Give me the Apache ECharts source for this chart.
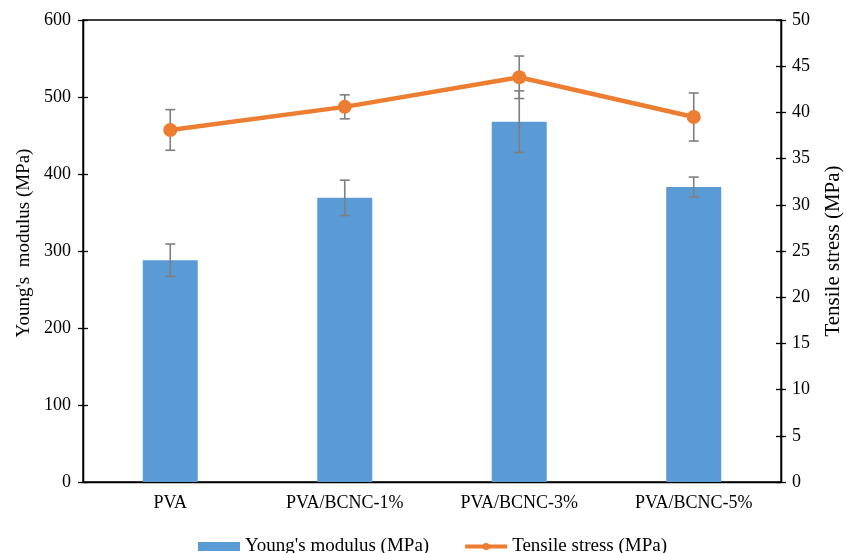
<!DOCTYPE html>
<html>
<head>
<meta charset="utf-8">
<script src="https://cdn.jsdelivr.net/npm/echarts@6/dist/echarts.min.js"></script>
<style>
  html, body { margin: 0; padding: 0; background: #fff; }
  #chart { width: 846px; height: 553px; }
</style>
</head>
<body>
<div id="chart"></div>
<script>
// Sample groups
const categories = ['PVA', 'PVA/BCNC-1%', 'PVA/BCNC-3%', 'PVA/BCNC-5%'];

// Young's modulus (MPa), mean and standard deviation
const modulus = [288, 369, 468, 383];
const modulusErr = [21, 23, 40, 13];

// Tensile stress (MPa), mean and standard deviation
const stress = [38.1, 40.6, 43.8, 39.5];
const stressErr = [2.2, 1.3, 2.3, 2.6];

// Axis ranges
const leftMax = 600, leftStep = 100;
const rightMax = 50, rightStep = 5;

const FONT = '"Liberation Serif", "Times New Roman", serif';
const errColor = '#7f7f7f';

function errorRender(params, api) {
  const x = api.value(0);
  const v = api.value(1);
  const e = api.value(2);
  const hi = api.coord([x, v + e]);
  const lo = api.coord([x, v - e]);
  const cap = 5;
  const style = { stroke: errColor, lineWidth: 1.6 };
  return {
    type: 'group',
    children: [
      { type: 'line', shape: { x1: hi[0], y1: hi[1], x2: lo[0], y2: lo[1] }, style },
      { type: 'line', shape: { x1: hi[0] - cap, y1: hi[1], x2: hi[0] + cap, y2: hi[1] }, style },
      { type: 'line', shape: { x1: lo[0] - cap, y1: lo[1], x2: lo[0] + cap, y2: lo[1] }, style }
    ]
  };
}

const chart = echarts.init(document.getElementById('chart'), null, { renderer: 'canvas' });

const baseY = {
  type: 'value',
  splitLine: { show: false },
  axisLine: { show: true, lineStyle: { color: '#000', width: 1.3 } },
  axisTick: { show: true, length: 5, lineStyle: { color: '#000', width: 1.3 } },
  axisLabel: { color: '#000', fontFamily: FONT, fontSize: 18 },
  nameTextStyle: { color: '#000', fontFamily: FONT }
};

chart.setOption({
  animation: false,
  backgroundColor: '#fff',
  grid: {
    left: 83, right: 65, top: 20, bottom: 71,
    outerBoundsMode: 'none',
    containLabel: false,
    show: true, borderColor: '#000', borderWidth: 1.3, backgroundColor: 'transparent'
  },
  legend: {
    top: 532,
    left: 193,
    itemGap: 34,
    itemWidth: 42,
    itemHeight: 9,
    textStyle: { color: '#000', fontFamily: FONT, fontSize: 19 },
    data: [
      { name: "Young's modulus (MPa)", icon: 'rect' },
      { name: 'Tensile stress (MPa)', lineStyle: { width: 4 } }
    ]
  },
  xAxis: {
    type: 'category',
    data: categories,
    axisLine: { show: true, lineStyle: { color: '#000', width: 1.3 } },
    axisTick: { show: false },
    axisLabel: { color: '#000', fontFamily: FONT, fontSize: 18, margin: 12 },
    splitLine: { show: false }
  },
  yAxis: [
    Object.assign({}, baseY, {
      position: 'left', min: 0, max: leftMax, interval: leftStep,
      name: "Young's  modulus (MPa)", nameLocation: 'middle', nameGap: 49,
      nameTextStyle: { color: '#000', fontFamily: FONT, fontSize: 19, padding: [0, 0, 0, 16] },
      axisLabel: Object.assign({}, baseY.axisLabel, { margin: 12 })
    }),
    Object.assign({}, baseY, {
      position: 'right', min: 0, max: rightMax, interval: rightStep,
      name: 'Tensile stress (MPa)', nameLocation: 'middle', nameGap: 42,
      nameTextStyle: { color: '#000', fontFamily: FONT, fontSize: 21 },
      axisLabel: Object.assign({}, baseY.axisLabel, { margin: 11 })
    }),
    // inward halves of the cross tick marks
    Object.assign({}, baseY, {
      position: 'left', min: 0, max: leftMax, interval: leftStep,
      axisLabel: { show: false },
      axisTick: { show: true, inside: true, length: 5, lineStyle: { color: '#000', width: 1.3 } }
    }),
    Object.assign({}, baseY, {
      position: 'right', min: 0, max: rightMax, interval: rightStep,
      axisLabel: { show: false },
      axisTick: { show: true, inside: true, length: 5, lineStyle: { color: '#000', width: 1.3 } }
    })
  ],
  series: [
    {
      name: "Young's modulus (MPa)",
      type: 'bar',
      yAxisIndex: 0,
      data: modulus,
      barWidth: '31.5%',
      itemStyle: { color: '#5B9BD5' },
      z: 2
    },
    {
      name: 'modulus-error',
      type: 'custom',
      yAxisIndex: 0,
      renderItem: errorRender,
      data: modulus.map((v, i) => [i, v, modulusErr[i]]),
      z: 3,
      silent: true
    },
    {
      name: 'stress-error',
      type: 'custom',
      yAxisIndex: 1,
      renderItem: errorRender,
      data: stress.map((v, i) => [i, v, stressErr[i]]),
      z: 3,
      silent: true
    },
    {
      name: 'Tensile stress (MPa)',
      type: 'line',
      yAxisIndex: 1,
      data: stress,
      symbol: 'circle',
      symbolSize: 14,
      lineStyle: { color: '#ED7D31', width: 4.5 },
      itemStyle: { color: '#ED7D31' },
      z: 5
    }
  ]
});
</script>
</body>
</html>
